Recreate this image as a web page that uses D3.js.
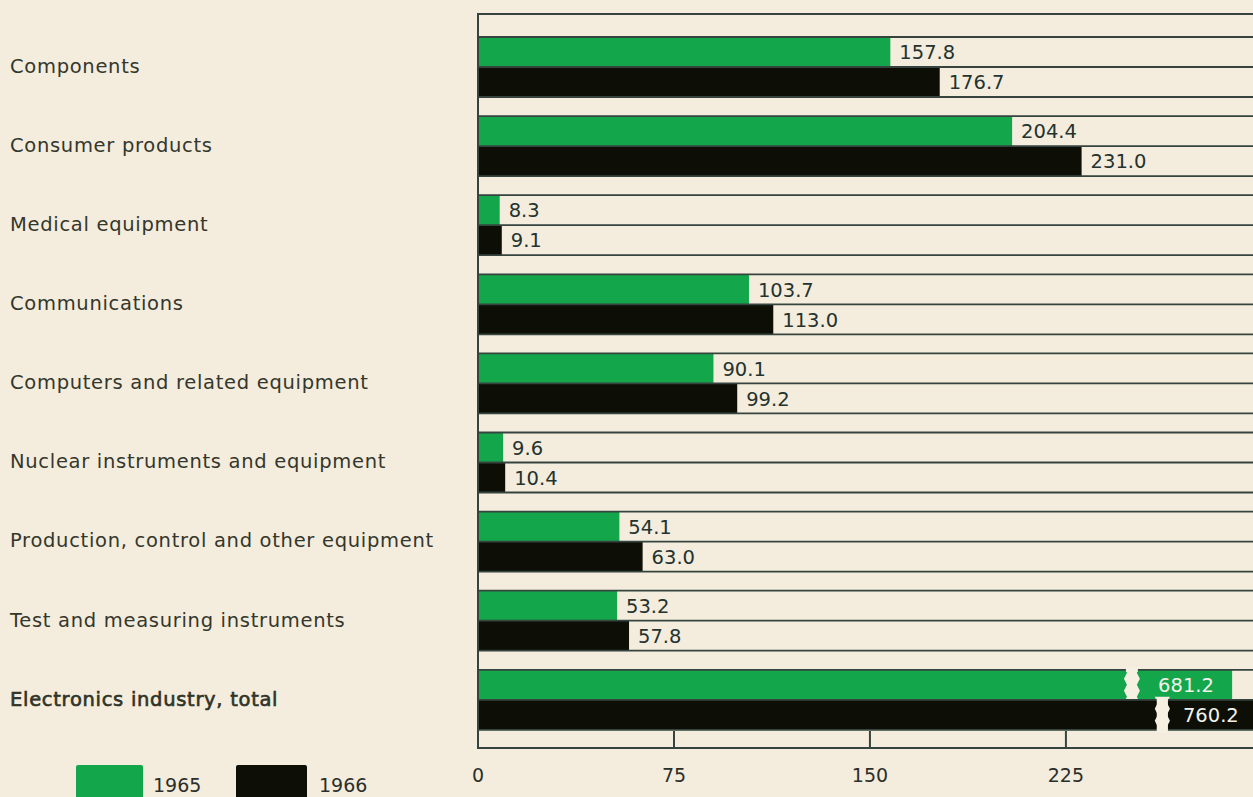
<!DOCTYPE html>
<html>
<head>
<meta charset="utf-8">
<script src="https://cdn.jsdelivr.net/npm/d3@7"></script>
<style>
  html, body { margin: 0; padding: 0; background: #f4ecdc; }
  svg { display: block; }
  text { font-family: "DejaVu Sans", sans-serif; }
</style>
</head>
<body>
<svg id="chart" width="1253" height="797"></svg>
<script>
// ---- data ----
const categories = [
  "Components",
  "Consumer products",
  "Medical equipment",
  "Communications",
  "Computers and related equipment",
  "Nuclear instruments and equipment",
  "Production, control and other equipment",
  "Test and measuring instruments",
  "Electronics industry, total"
];
const years = ["1965", "1966"];
const values1965 = [157.8, 204.4, 8.3, 103.7, 90.1, 9.6, 54.1, 53.2, 681.2];
const values1966 = [176.7, 231.0, 9.1, 113.0, 99.2, 10.4, 63.0, 57.8, 760.2];
const tickValues = [0, 75, 150, 225];
const labels1965 = ["157.8", "204.4", "8.3", "103.7", "90.1", "9.6", "54.1", "53.2", "681.2"];
const labels1966 = ["176.7", "231.0", "9.1", "113.0", "99.2", "10.4", "63.0", "57.8", "760.2"];

// broken-bar display for the total row (in axis units)
const breakFrom = [247.2, 259.0];
const breakTo   = [253.3, 264.8];
const stubEnd   = [288.6, 305];

// ---- layout ----
const W = 1253, H = 797;
const left = 478, frameTop = 14, frameBottom = 748;
const colors = { "1965": "#13a64b", "1966": "#0d0f06" };
const lineColor = "#35443f";
const bg = "#f4ecdc";
const gapFill = "#f6f0e2";

const svg = d3.select("#chart");
svg.append("rect").attr("width", W).attr("height", H).attr("fill", bg);

const x = d3.scaleLinear().domain([0, 300]).range([left, left + 783.9]);
const y = d3.scaleBand().domain(categories).range([37, 729.8]).paddingInner(0.2415).paddingOuter(0);
const ySub = d3.scaleBand().domain(years).range([0, y.bandwidth()]);

const rows = categories.map((c, i) => ({
  cat: c, i,
  vals: [
    { year: "1965", v: values1965[i], label: labels1965[i] },
    { year: "1966", v: values1966[i], label: labels1966[i] }
  ]
}));

// axis ticks (behind)
const axisG = svg.append("g");
axisG.selectAll("line.tick").data(tickValues.filter(d => d > 0)).join("line")
  .attr("x1", d => x(d)).attr("x2", d => x(d))
  .attr("y1", frameBottom).attr("y2", frameBottom - 17)
  .attr("stroke", lineColor).attr("stroke-width", 2);

// bars
const g = svg.append("g");
rows.forEach(r => {
  const last = r.i === categories.length - 1;
  r.vals.forEach((d, j) => {
    const y0 = y(r.cat) + ySub(d.year);
    const h = ySub.bandwidth();
    if (!last) {
      g.append("rect")
        .attr("x", x(0)).attr("y", y0)
        .attr("width", x(d.v) - x(0)).attr("height", h)
        .attr("fill", colors[d.year]);
      g.append("text")
        .attr("x", x(d.v) + 9).attr("y", y0 + h / 2)
        .attr("dy", "0.37em")
        .attr("font-size", 19.5).attr("fill", "#23332f")
        .text(d.label);
    } else {
      g.append("rect")
        .attr("x", x(0)).attr("y", y0)
        .attr("width", Math.min(x(stubEnd[j]), W + 5) - x(0)).attr("height", h)
        .attr("fill", colors[d.year]);
      // jagged break
      const a = x(breakFrom[j]), b = x(breakTo[j]);
      const top = y0 - 3, bot = y0 + h + 3;
      const steps = 6;
      const ptsL = [], ptsR = [];
      for (let k = 0; k <= steps; k++) {
        const yy = top + (bot - top) * k / steps;
        const off = (k % 2 === 0) ? 0 : 3;
        ptsL.push([a + off, yy]);
        ptsR.push([b - off, yy]);
      }
      const poly = ptsL.concat(ptsR.reverse());
      g.append("path")
        .attr("d", d3.line()(poly) + "Z")
        .attr("fill", gapFill);
      g.append("text")
        .attr("x", j === 0 ? (b + x(stubEnd[j])) / 2 : b + 13)
        .attr("text-anchor", j === 0 ? "middle" : "start")
        .attr("y", y0 + h / 2).attr("dy", "0.37em")
        .attr("font-size", 19.5).attr("fill", "#f3f3ea")
        .text(d.label);
    }
  });
});

// row lines
const lineYs = [];
rows.forEach(r => {
  const y0 = y(r.cat);
  lineYs.push(y0, y0 + ySub.bandwidth(), y0 + y.bandwidth());
});
const lg = svg.append("g");
lg.selectAll("line.row").data(lineYs).join("line")
  .attr("x1", left).attr("x2", W)
  .attr("y1", d => d).attr("y2", d => d)
  .attr("stroke", lineColor).attr("stroke-width", 1.8);

// re-cut the break gaps over the lines for the total row
rows.filter(r => r.i === categories.length - 1).forEach(r => {
  r.vals.forEach((d, j) => {
    const y0 = y(r.cat) + ySub(d.year);
    const a = x(breakFrom[j]) + 2, b = x(breakTo[j]) - 2;
    lg.append("rect").attr("x", a).attr("width", b - a)
      .attr("y", y0 - 2).attr("height", j === 0 ? 4 : ySub.bandwidth() + 4)
      .attr("fill", gapFill);
  });
});

// frame
svg.append("line").attr("x1", left).attr("x2", W).attr("y1", frameTop).attr("y2", frameTop)
  .attr("stroke", lineColor).attr("stroke-width", 2);
svg.append("line").attr("x1", left).attr("x2", W).attr("y1", frameBottom).attr("y2", frameBottom)
  .attr("stroke", lineColor).attr("stroke-width", 2);
svg.append("line").attr("x1", left).attr("x2", left).attr("y1", frameTop - 1).attr("y2", frameBottom + 1)
  .attr("stroke", lineColor).attr("stroke-width", 2);

// tick labels
svg.append("g").selectAll("text").data(tickValues).join("text")
  .attr("x", d => x(d)).attr("y", 782)
  .attr("text-anchor", "middle")
  .attr("font-size", 19).attr("fill", "#2a2f2a")
  .text(d => d);

// category labels
svg.append("g").selectAll("text").data(categories).join("text")
  .attr("x", 10)
  .attr("y", d => y(d) + y.bandwidth() / 2)
  .attr("dy", "0.3em")
  .attr("font-size", 19.5)
  .attr("letter-spacing", 0.7)
  .attr("fill", "#33372c")
  .attr("stroke", (d, i) => i === categories.length - 1 ? "#2a2d22" : "none")
  .attr("stroke-width", 0.6)
  .text(d => d);

// legend
const legend = svg.append("g");
const legendItems = [
  { year: years[0], x: 76, w: 67, tx: 153 },
  { year: years[1], x: 236, w: 71, tx: 319 }
];
legend.selectAll("rect").data(legendItems).join("rect")
  .attr("x", d => d.x).attr("y", 765).attr("width", d => d.w).attr("height", 34)
  .attr("rx", 2)
  .attr("fill", d => colors[d.year]);
legend.selectAll("text").data(legendItems).join("text")
  .attr("x", d => d.tx).attr("y", 792)
  .attr("font-size", 19).attr("fill", "#2a2f2a")
  .text(d => d.year);
</script>
</body>
</html>
